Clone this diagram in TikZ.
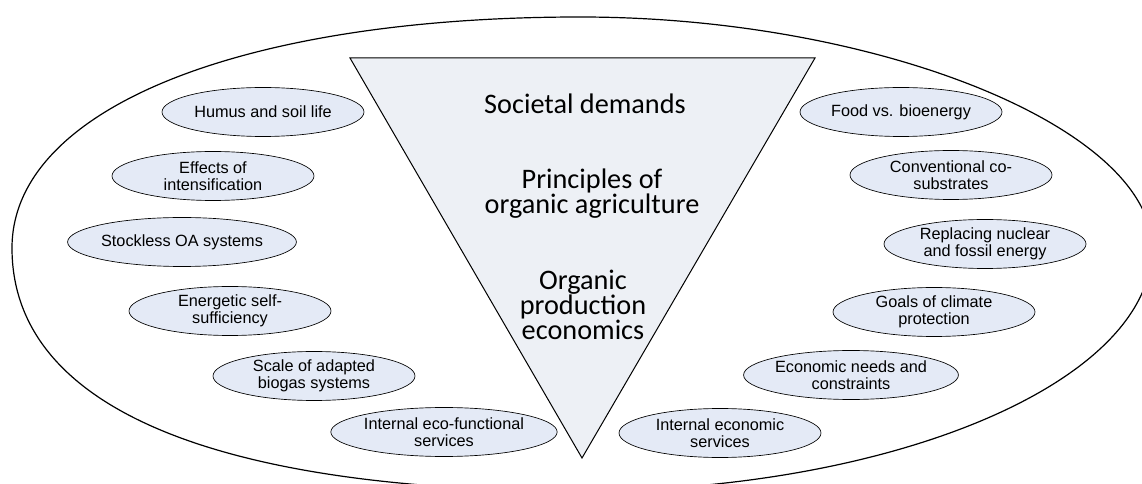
\documentclass[tikz,border=0pt]{standalone}
\usepackage{fontspec}
\setmainfont{Liberation Sans}
\newfontfamily\calibrifont{Carlito}
\usetikzlibrary{shapes.geometric}
\definecolor{ovalfill}{RGB}{228,234,246}
\definecolor{trifill}{RGB}{237,240,245}
\tikzset{
    every node/.style={font=\fontsize{12.2}{12.6}\selectfont},
    oval/.style={draw=black, fill=ovalfill, ellipse, line width=0.5pt, minimum width=151.5pt, minimum height=36.75pt, inner sep=0pt, align=center},
    tritext/.style={font=\calibrifont\fontsize{21.2}{18.8}\selectfont, align=center},
    tribox/.style={draw=black, fill=trifill, line width=0.75pt, line join=miter},
    ring/.style={draw=black, line width=0.9pt},
}

\begin{document}
\begin{tikzpicture}[x=0.75pt, y=-0.75pt]
\clip (0,0) rectangle (1142,484);

% outer ring
\draw[ring] (12,248) .. controls (12,109.4) and (239.2,17) .. (580,17)
  .. controls (877.4,17) and (1152,127.9) .. (1152,248)
  .. controls (1152,381.7) and (894.6,491) .. (580,491)
  .. controls (210.8,491) and (12,406) .. (12,248) -- cycle;

% central triangle
\coordinate (tl) at (350,58);
\coordinate (tr) at (815,58);
\coordinate (apex) at (582,458);
\draw[tribox] (tl) -- (tr) -- (apex) -- cycle;

\node[tritext] (societal) at (585,104) {Societal demands};
\node[tritext] (principles) at (592,194) {Principles of\\organic agriculture};
\node[tritext] (economics) at (583,305) {Organic\\production\\economics};

% left ovals
\foreach \i/\x/\y/\text in {1/263/112/Humus and soil life,
                            2/213/176/Effects of\\intensification,
                            3/182/242/Stockless OA systems,
                            4/230/311/Energetic self-\\sufficiency,
                            5/314/376/Scale of adapted\\biogas systems,
                            6/444/432/Internal eco-functional\\services}{
  \node[oval] (left-\i) at (\x,\y) {\text};
}

% right ovals
\foreach \i/\x/\y/\text in {1/901/112/Food vs. bioenergy,
                            2/951/175/Conventional co-\\substrates,
                            3/985/244/Replacing nuclear\\and fossil energy,
                            4/934/312/Goals of climate\\protection,
                            5/851/375/Economic needs and\\constraints,
                            6/720/433/Internal economic\\services}{
  \node[oval] (right-\i) at (\x,\y) {\text};
}

\end{tikzpicture}
\end{document}
